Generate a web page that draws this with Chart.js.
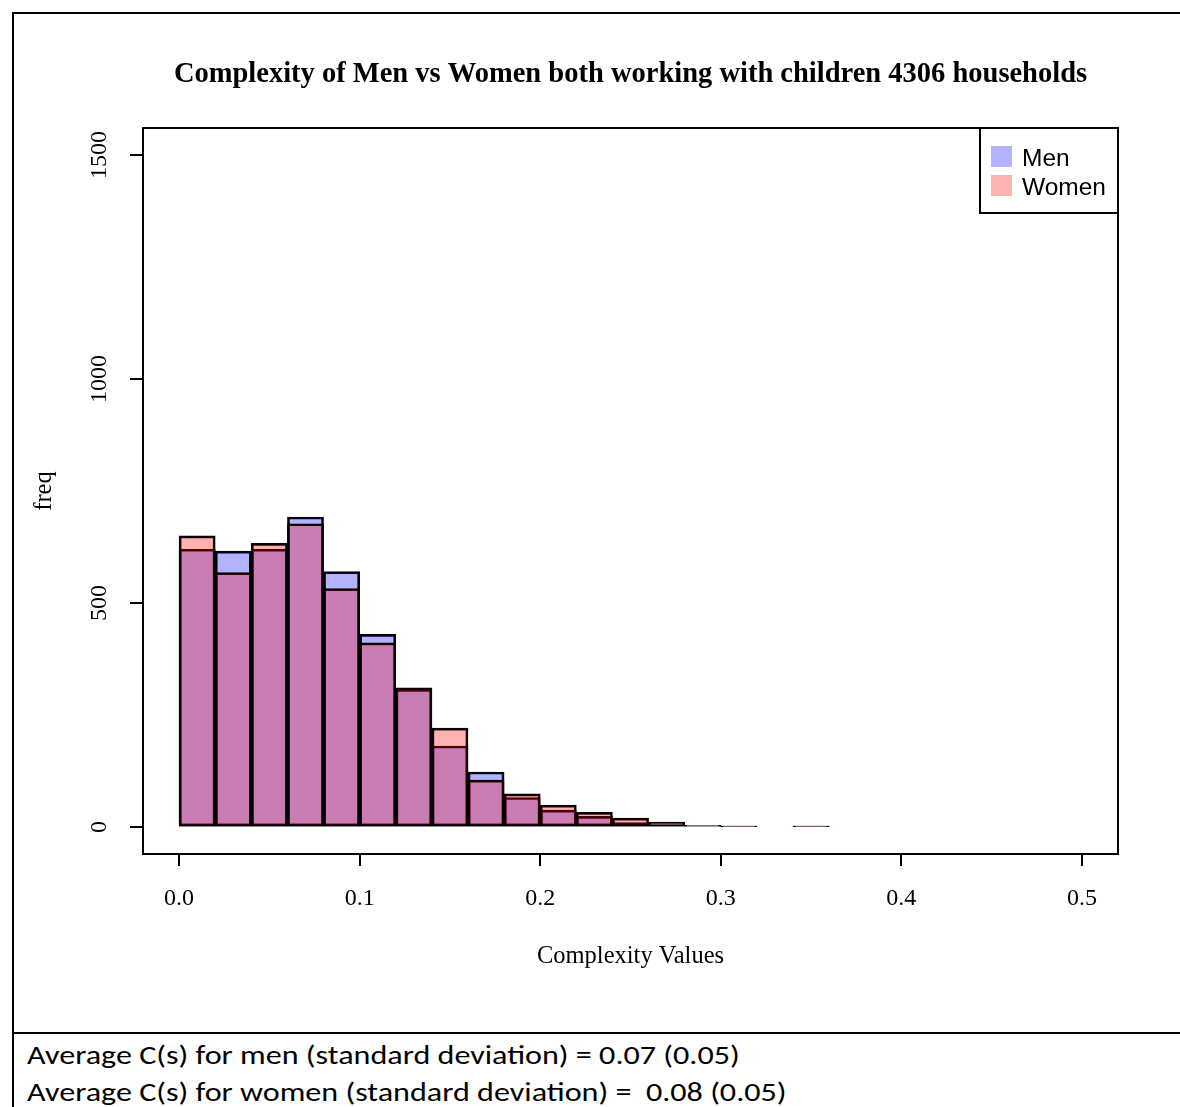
<!DOCTYPE html>
<html>
<head>
<meta charset="utf-8">
<script src="https://cdn.jsdelivr.net/npm/chart.js@4.4.1/dist/chart.umd.min.js"></script>
<style>
  body { margin: 0; background: #fff; width: 1180px; height: 1107px; overflow: hidden; position: relative; }
  .frame { position: absolute; left: 12px; top: 12px; width: 1168px; height: 1100px; border-top: 2px solid #000; border-left: 2px solid #000; }
  .rule { position: absolute; left: 12px; top: 1032px; width: 1168px; height: 2px; background: #000; }
  #myChart { position: absolute; left: 14px; top: 14px; }
  .note { position: absolute; left: 27px; font-family: Carlito, Lato, sans-serif; font-size: 26px; color: #000; white-space: pre; transform: scaleX(1.235); transform-origin: left top; }
</style>
</head>
<body>
<div class="frame"></div>
<canvas id="myChart" width="1166" height="1018"></canvas>
<div class="rule"></div>
<div class="note" style="top:1039px">Average C(s) for men (standard deviation) = 0.07 (0.05)</div>
<div class="note" style="top:1076px">Average C(s) for women (standard deviation) =  0.08 (0.05)</div>
<script>
// histogram bins (bin width 0.02), centres on the x axis
const binMids = [0.01, 0.03, 0.05, 0.07, 0.09, 0.11, 0.13, 0.15, 0.17, 0.19, 0.21, 0.23, 0.25, 0.27, 0.29, 0.31, 0.33, 0.35];
const menFreq = [620, 616, 620, 692, 570, 430, 307, 181, 123, 66, 38, 24, 10, 5, 3, 1, 0, 1];
const womenFreq = [650, 568, 633, 677, 532, 411, 311, 221, 105, 74, 49, 33, 20, 11, 4, 1, 0, 1];
const xTicks = [0, 0.1, 0.2, 0.3, 0.4, 0.5];
const yTicks = [0, 500, 1000, 1500];

const serif = 'Liberation Serif';

// box round the plot + legend in the top right corner
const boxPlugin = {
  id: 'boxPlugin',
  afterDraw(chart) {
    const { ctx, chartArea: a } = chart;
    ctx.save();
    ctx.strokeStyle = '#000';
    ctx.lineWidth = 2;
    ctx.strokeRect(a.left, a.top, a.right - a.left, a.bottom - a.top);

    const w = 138, h = 85;
    ctx.strokeRect(a.right - w, a.top, w, h);
    ctx.font = '24.5px "Liberation Sans"';
    ctx.textBaseline = 'middle';
    const items = [chart.data.datasets[0], chart.data.datasets[1]];
    items.forEach((ds, i) => {
      const cy = a.top + 29 + i * 29;
      ctx.fillStyle = ds.backgroundColor;
      ctx.fillRect(a.right - w + 11, cy - 11, 21, 21);
      ctx.fillStyle = '#000';
      ctx.fillText(ds.label, a.right - w + 42, cy + 2);
    });
    ctx.restore();
  }
};

const ctx = document.getElementById('myChart');

new Chart(ctx, {
  type: 'bar',
  data: {
    datasets: [{
      label: 'Men',
      data: binMids.map((x, i) => ({ x: x, y: menFreq[i] })),
      backgroundColor: 'rgba(0, 0, 255, 0.3)',
      borderColor: '#000',
      borderWidth: 2,
      borderSkipped: false,
      order: 1
    }, {
      label: 'Women',
      data: binMids.map((x, i) => ({ x: x, y: womenFreq[i] })),
      backgroundColor: 'rgba(255, 0, 0, 0.3)',
      borderColor: '#000',
      borderWidth: 2,
      borderSkipped: false,
      order: 0
    }]
  },
  options: {
    responsive: false,
    animation: false,
    grouped: false,
    barPercentage: 1,
    categoryPercentage: 1,
    layout: { padding: { left: 0, right: 62, top: 0, bottom: 0 } },
    plugins: {
      legend: { display: false },
      tooltip: { enabled: false },
      title: {
        display: true,
        fullSize: false,
        text: 'Complexity of Men vs Women both working with children 4306 households',
        color: '#000',
        font: { family: serif, size: 28.5, weight: 'bold' },
        padding: { top: 44, bottom: 35.8 }
      }
    },
    scales: {
      x: {
        type: 'linear',
        min: -0.02,
        max: 0.52,
        offset: false,
        afterBuildTicks: s => { s.ticks = xTicks.map(v => ({ value: v })); },
        afterFit: s => { s.height = 178; },
        ticks: {
          color: '#000',
          font: { family: serif, size: 24 },
          padding: 18,
          maxRotation: 0,
          callback: v => v.toFixed(1)
        },
        grid: { offset: false, drawOnChartArea: false, color: '#000', lineWidth: 2, tickLength: 12 },
        border: { display: false },
        title: {
          display: true,
          text: 'Complexity Values',
          color: '#000',
          font: { family: serif, size: 24.5 },
          padding: { top: 0, bottom: 61 }
        }
      },
      y: {
        min: -60,
        max: 1560,
        afterBuildTicks: s => { s.ticks = yTicks.map(v => ({ value: v })); },
        afterFit: s => { s.width = 129; },
        ticks: {
          color: '#000',
          font: { family: serif, size: 24 },
          minRotation: 90,
          maxRotation: 90,
          crossAlign: 'center',
          padding: 6,
          callback: v => String(v)
        },
        grid: { drawOnChartArea: false, color: '#000', lineWidth: 2, tickLength: 13 },
        border: { display: false },
        title: {
          display: true,
          text: 'freq',
          color: '#000',
          font: { family: serif, size: 24.5 },
          padding: { top: 16, bottom: 0 }
        }
      }
    }
  },
  plugins: [boxPlugin]
});
</script>
</body>
</html>
